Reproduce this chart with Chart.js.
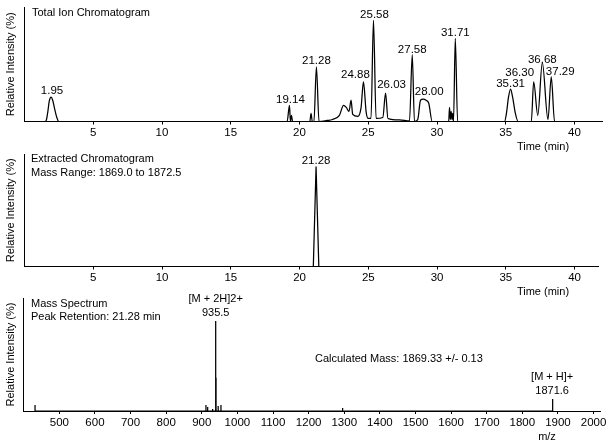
<!DOCTYPE html>
<html>
<head>
<meta charset="utf-8">
<script src="https://cdn.jsdelivr.net/npm/chart.js@4.4.1/dist/chart.umd.min.js"></script>
<style>
  body { margin: 0; background: #fff; }
  #wrap { position: relative; width: 612px; height: 445px; }
  canvas { position: absolute; left: 0; }
</style>
</head>
<body>
<div id="wrap">
  <canvas id="tic" width="612" height="155" style="top:0px"></canvas>
  <canvas id="xic" width="612" height="155" style="top:145px"></canvas>
  <canvas id="ms" width="612" height="155" style="top:290px"></canvas>
</div>
<script>
// total ion chromatogram (time in min, relative intensity %)
const ticTime = [0, 1.5, 1.6, 1.7, 1.8, 1.93, 2.05, 2.2, 2.35, 2.5,
  19.1, 19.27, 19.34, 19.42, 19.5, 20.75, 20.84, 20.93, 21.05, 21.23, 21.42,
  22.0, 22.4, 22.9, 23.2, 23.4, 23.6, 23.75, 23.87, 24.24, 24.48, 24.65, 24.85, 25.0, 25.2,
  25.38, 25.57, 26.06, 26.26, 26.43, 27.27, 28.0, 28.2, 28.36, 28.6, 28.8, 29.0, 29.2, 29.4, 29.65,
  30.85, 30.91, 30.97, 31.03, 31.09, 31.14, 31.2, 31.33, 31.5,
  34.91, 35.05, 35.2, 35.35, 35.5, 35.7, 35.9,
  36.86, 37.03, 37.33, 37.66, 38.07, 38.31, 38.55, 42]
const ticIntensity = [0, 0, 2, 10, 20, 24, 21, 12, 4, 0,
  0, 16, 0, 6, 0, 0, 8, 0, 0, 54, 0,
  1, 2, 6, 16, 14, 10, 21, 7, 5, 14, 39, 9, 3, 3,
  100, 3, 4, 28, 3, 1.5, 0.5, 66, 0, 2, 21, 22, 21, 18, 0,
  0, 14, 2, 10, 2, 8, 0, 82, 0,
  0, 8, 24, 32, 24, 8, 0,
  0, 39, 6, 58, 2, 44, 0, 0]
const ticPeakTime = [1.93, 19.27, 21.23, 24.65, 25.38, 26.26, 28.2, 29.0, 31.33, 35.35, 37.03, 37.66, 38.31]
const ticPeakText = ['1.95', '19.14', '21.28', '24.88', '25.58', '26.03', '27.58', '28.00', '31.71', '35.31', '36.30', '36.68', '37.29']

// extracted chromatogram
const xicTime = [0, 21.0, 21.2, 21.4, 41.7]
const xicIntensity = [0, 0, 100, 0, 0]
const xicPeakTime = [21.2]
const xicPeakText = ['21.28']

// mass spectrum (m/z, relative intensity %)
const msMz = [431.8, 911.7, 916.5, 930.5, 939, 940, 946, 953.8, 1295.4, 1883.7, 1886]
const msIntensity = [6.7, 6.7, 4.4, 2.2, 100, 37, 5.6, 6.7, 3.3, 13.3, 4.4]
const msPeakMz = [939, 1883.7]
const msPeakText = [['[M + 2H]2+', '935.5'], ['[M + H]+', '1871.6']]

const timeTicks = [5, 10, 15, 20, 25, 30, 35, 40]
const mzTicks = [500, 600, 700, 800, 900, 1000, 1100, 1200, 1300, 1400, 1500, 1600, 1700, 1800, 1900, 2000]

const FONT = '"Liberation Sans", Arial, Helvetica, sans-serif'

const toPoints = (xs, ys) => xs.map((x, i) => ({ x: x, y: ys[i] }))

const textPlugin = {
  id: 'texts',
  afterDatasetsDraw(chart, args, opts) {
    const ctx = chart.ctx
    const xs = chart.scales.x, ys = chart.scales.y
    ctx.save()
    ctx.fillStyle = '#000'
    ctx.textBaseline = 'middle'
    ctx.textAlign = 'center'
    ;(opts.peaks || []).forEach(p => {
      const px = xs.getPixelForValue(p.x) + (p.dx || 0)
      const py = ys.getPixelForValue(p.y) + (p.dy === undefined ? -6 : p.dy)
      ctx.font = (p.size || 11.5) + 'px ' + FONT
      p.lines.forEach((line, j) => {
        ctx.fillText(line, px, py - (p.lines.length - 1 - j) * 13.5)
      })
    })
    ctx.font = '11px ' + FONT
    ;(opts.notes || []).forEach(n => {
      ctx.textAlign = n.align || 'left'
      ctx.fillText(n.text, n.x, n.y)
    })
    ctx.restore()
  }
}

const makePanel = (id, p) => new Chart(document.getElementById(id), {
  type: 'scatter',
  data: {
    datasets: [{
      data: p.points,
      showLine: true,
      borderColor: '#000',
      borderWidth: 1.25,
      pointRadius: 0,
      cubicInterpolationMode: p.smooth ? 'monotone' : 'default',
      tension: 0
    }]
  },
  options: {
    responsive: false,
    animation: false,
    devicePixelRatio: 1,
    layout: { padding: { top: p.top, right: p.right, left: 0, bottom: 0 } },
    plugins: {
      legend: { display: false },
      tooltip: { enabled: false },
      texts: { peaks: p.peaks, notes: p.notes }
    },
    scales: {
      x: {
        type: 'linear',
        min: p.xMin,
        max: p.xMax,
        afterBuildTicks: s => { s.ticks = p.ticks.map(v => ({ value: v })) },
        afterFit: s => { s.height = p.bottomH },
        border: { color: '#000', width: 1 },
        grid: { drawOnChartArea: false, color: '#000', tickLength: 3 },
        ticks: {
          color: '#000', font: { family: FONT, size: 11.5 }, padding: p.tickPad,
          maxRotation: 0, autoSkip: false, callback: v => String(v)
        }
      },
      y: {
        min: 0,
        max: p.yMax,
        afterFit: s => { s.width = p.left },
        border: { color: '#000', width: 1 },
        grid: { display: false },
        ticks: { display: false },
        title: { display: true, text: 'Relative Intensity (%)', color: '#000', font: { family: FONT, size: 11 }, padding: { top: 4, bottom: 0 } }
      }
    }
  },
  plugins: [textPlugin]
})

// label shifts in px from each peak apex
const ticShift = [[1, -6.5], [1, -5.5], [0, -5.5], [-8, -7.5], [1, -5.5], [6, -8.5], [0, -4.5], [6, -7], [0, -6], [0, -5.5], [-14, -9.5], [0, -2.5], [9, -5]]

makePanel('tic', {
  points: toPoints(ticTime, ticIntensity),
  smooth: true,
  xMin: 0, xMax: 42, yMax: 113,
  ticks: timeTicks,
  top: 7, right: 10, left: 24.5, bottomH: 33.5, tickPad: 1,
  peaks: ticPeakTime.map((t, i) => ({
    x: t, y: ticIntensity[ticTime.indexOf(t)], lines: [ticPeakText[i]], dx: ticShift[i][0], dy: ticShift[i][1]
  })),
  notes: [
    { text: 'Total Ion Chromatogram', x: 32, y: 13 },
    { text: 'Time (min)', x: 543, y: 146.5, align: 'center' }
  ]
})

makePanel('xic', {
  points: toPoints(xicTime, xicIntensity),
  smooth: false,
  xMin: 0, xMax: 41.7, yMax: 112.5,
  ticks: timeTicks,
  top: 9, right: 14, left: 24.5, bottomH: 33.5, tickPad: 1,
  peaks: xicPeakTime.map((t, i) => ({ x: t, y: xicIntensity[xicTime.indexOf(t)], lines: [xicPeakText[i]], dy: -6 })),
  notes: [
    { text: 'Extracted Chromatogram', x: 31, y: 14 },
    { text: 'Mass Range: 1869.0 to 1872.5', x: 31, y: 27.5 },
    { text: 'Time (min)', x: 543, y: 146.7, align: 'center' }
  ]
})

const msPoints = []
msMz.forEach((m, i) => {
  msPoints.push({ x: m, y: 0 }, { x: m, y: msIntensity[i] }, { x: m, y: 0 })
})

makePanel('ms', {
  points: msPoints,
  smooth: false,
  xMin: 398, xMax: 2018, yMax: 125.5,
  ticks: mzTicks,
  top: 8, right: 12, left: 23, bottomH: 34, tickPad: 2,
  peaks: msPeakMz.map((m, i) => ({ x: m, y: msIntensity[msMz.indexOf(m)], lines: msPeakText[i], dy: -8.2, size: 11 })),
  notes: [
    { text: 'Mass Spectrum', x: 31, y: 14 },
    { text: 'Peak Retention: 21.28 min', x: 31, y: 26.5 },
    { text: 'Calculated Mass: 1869.33 +/- 0.13', x: 315, y: 69 },
    { text: 'm/z', x: 547, y: 147, align: 'center' }
  ]
})
</script>
</body>
</html>
